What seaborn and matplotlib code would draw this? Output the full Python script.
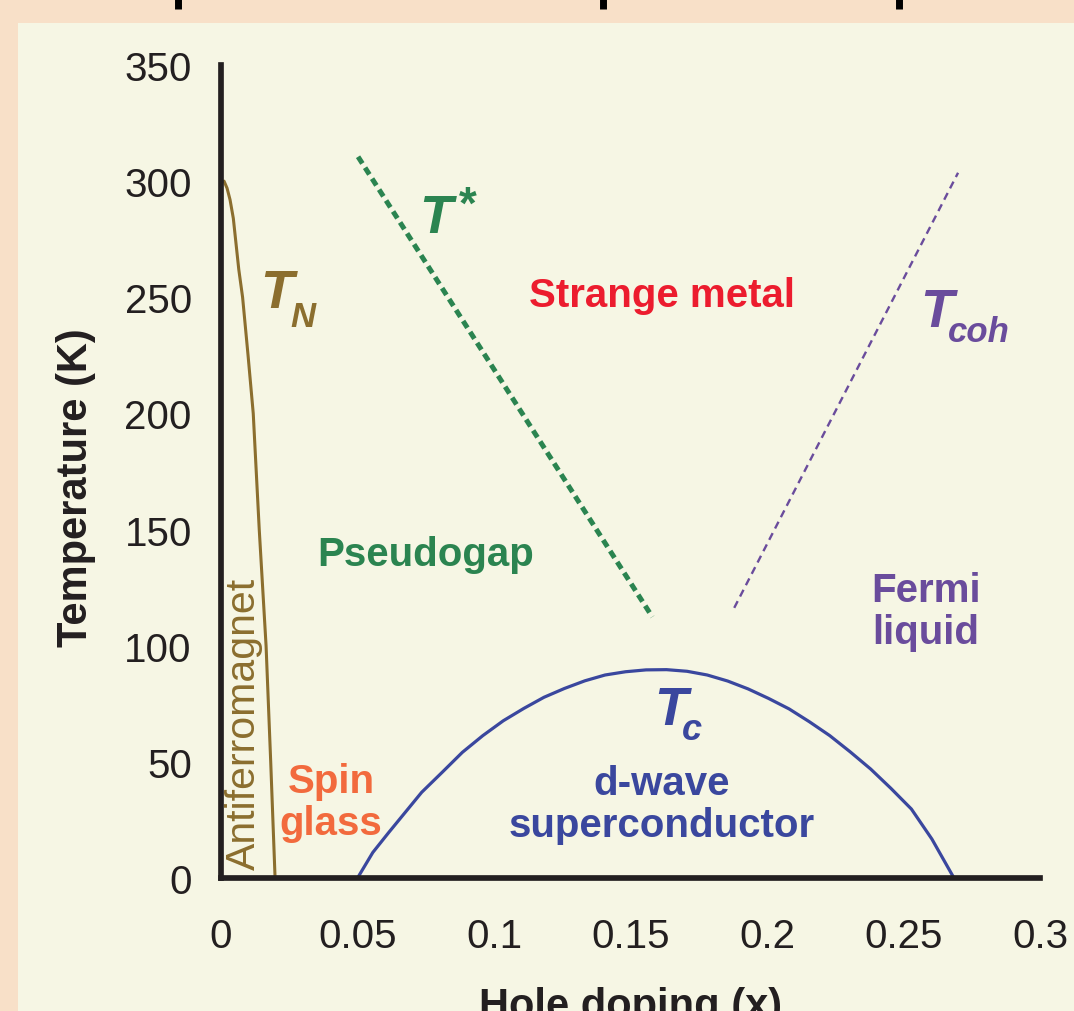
import matplotlib
matplotlib.use('Agg')
import matplotlib.pyplot as plt
import matplotlib.transforms as mtransforms
import seaborn as sns
from matplotlib.lines import Line2D
from matplotlib.patches import Rectangle

# curves (x = hole doping, T in K)
tn_x = [0.0011, 0.0022, 0.0033, 0.0045, 0.0055, 0.0065, 0.0079, 0.0099, 0.0118, 0.0140, 0.0165, 0.0182, 0.0198]
tn_T = [300, 297, 292, 284, 273, 262, 250, 225, 200, 150, 100, 50, 0]

tstar_x = [0.0502, 0.158]
tstar_T = [310.5, 112.4]

tcoh_x = [0.188, 0.270]
tcoh_T = [116.3, 303.6]

tc_x = [0.050, 0.0556, 0.0615, 0.0675, 0.0735, 0.0810, 0.0884, 0.0959, 0.1034, 0.1109,
        0.1183, 0.1258, 0.1333, 0.1407, 0.1482, 0.1557, 0.1632, 0.1707, 0.1781, 0.1856,
        0.1931, 0.2006, 0.2081, 0.2155, 0.2230, 0.2305, 0.2380, 0.2454, 0.2529, 0.2604, 0.2685]
tc_T = [0, 11.0, 19.7, 28.3, 36.9, 45.5, 54.1, 61.3, 67.7, 73.0,
        77.8, 81.6, 84.9, 87.4, 88.8, 89.6, 89.7, 89.0, 87.4, 84.8,
        81.4, 77.3, 72.8, 67.3, 61.3, 54.3, 46.9, 38.6, 29.7, 16.8, 0]

x_ticks = [0, 0.05, 0.1, 0.15, 0.2, 0.25, 0.3]
x_tick_labels = ['0', '0.05', '0.1', '0.15', '0.2', '0.25', '0.3']
y_ticks = [0, 50, 100, 150, 200, 250, 300, 350]

region_labels = ['Strange metal', 'Pseudogap', 'd-wave\nsuperconductor', 'Fermi\nliquid', 'Spin\nglass']
region_x = [0.1615, 0.0751, 0.1615, 0.2582, 0.0403]
region_T = [251, 139.5, 31.9, 115, 32.7]

# line names: main letter, subscript / superscript, anchor (left, baseline)
line_subs = ['N', '*', 'coh', 'c']
line_label_x = [0.0145, 0.0727, 0.2560, 0.1586]
line_label_T = [245.9, 278.3, 237.8, 66.3]

# colours
brown = '#8b6e2e'
green = '#2b8450'
purple = '#6a4c9c'
blue = '#3a479e'
red = '#ec1c2e'
orange = '#f26a3d'
cream = '#f6f6e4'
peach = '#f8e0c8'
ink = '#231f20'

sns.set_theme(style='white')
plt.rcParams['font.family'] = ['Liberation Sans', 'DejaVu Sans']

fig = plt.figure(figsize=(10.74, 10.12), dpi=100, facecolor=peach)
# cream panel
fig.patches.append(Rectangle((18 / 1074, 0), 1, 1 - 24 / 1012, transform=fig.transFigure,
                             facecolor=cream, edgecolor='none', zorder=-10))
# descenders of the cut-off title above
for xf in [178 / 1074, 603 / 1074, 899 / 1074]:
    fig.add_artist(Line2D([xf, xf], [1.0, 1 - 10 / 1012], transform=fig.transFigure,
                          color='black', lw=5, solid_capstyle='butt'))

ax = fig.add_axes([0.2058, 0.1314, 0.7625, 0.8034])
ax.set_facecolor('none')
ax.set_zorder(5)

sns.lineplot(x=tn_x, y=tn_T, color=brown, lw=2.2, sort=False, estimator=None, ax=ax)
sns.lineplot(x=tstar_x, y=tstar_T, color=green, lw=3.6, sort=False, estimator=None, ax=ax,
             linestyle=(0, (1.6, 1.0)))
sns.lineplot(x=tcoh_x, y=tcoh_T, color=purple, lw=1.7, sort=False, estimator=None, ax=ax,
             linestyle=(0, (3.2, 2.2)))
sns.lineplot(x=tc_x, y=tc_T, color=blue, lw=2.3, sort=False, estimator=None, ax=ax)

ax.set_xlim(0, 0.3)
ax.set_ylim(0, 350)
ax.set_xticks(x_ticks)
ax.set_xticklabels(x_tick_labels)
ax.set_yticks(y_ticks)
ax.tick_params(axis='both', direction='out', length=13, width=4.1, color=ink,
               labelsize=29, labelcolor=ink, pad=8)
ax.tick_params(axis='x', pad=15)
sns.despine(ax=ax)
for side in ['left', 'bottom']:
    ax.spines[side].set_linewidth(4.1)
    ax.spines[side].set_color(ink)

ax.set_xlabel('Hole doping (x)', fontsize=30, fontweight='bold', color=ink)
ax.set_ylabel('Temperature (K)', fontsize=30, fontweight='bold', color=ink)
ax.xaxis.set_label_coords(0.5, -0.133)
ax.yaxis.set_label_coords(-0.153, 0.482)

region_colors = [red, green, blue, purple, orange]
for lab, x, t, c in zip(region_labels, region_x, region_T, region_colors):
    ax.text(x, t, lab, color=c, fontsize=29, fontweight='bold', ha='center', va='center',
            linespacing=1.15)

ax.text(0.0085, 66.8, 'Antiferromagnet', color=brown, fontsize=29.5, rotation=90,
        ha='center', va='center')

# T labels built from a big italic T plus a smaller offset sub/superscript
line_colors = [brown, green, purple, blue]
sub_dx = [30, 39, 28, 28]
sub_dy = [-19, 14, -15, -15]
sub_size = [25, 33, 25, 26]
for sub, x, t, c, dx, dy, fs in zip(line_subs, line_label_x, line_label_T, line_colors,
                                    sub_dx, sub_dy, sub_size):
    ax.text(x, t, 'T', color=c, fontsize=39, fontweight='bold', fontstyle='italic',
            ha='left', va='baseline')
    tr = mtransforms.offset_copy(ax.transData, fig=fig, x=dx, y=dy, units='dots')
    ax.text(x, t, sub, color=c, fontsize=fs, fontweight='bold',
            fontstyle='normal' if sub == '*' else 'italic',
            ha='left', va='baseline', transform=tr)

plt.savefig('out.png', dpi=100, facecolor=peach)
plt.close()
